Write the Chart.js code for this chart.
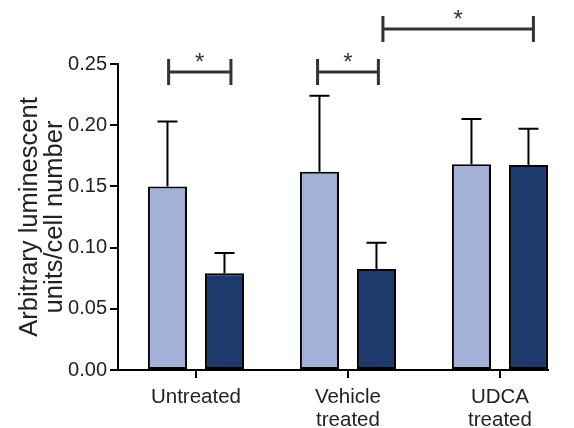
<!DOCTYPE html>
<html>
<head>
<meta charset="utf-8">
<script src="https://cdn.jsdelivr.net/npm/chart.js@4/dist/chart.umd.min.js"></script>
<style>
  html, body { margin: 0; padding: 0; background: #ffffff; }
  #wrap { width: 574px; height: 428px; }
</style>
</head>
<body>
<div id="wrap"><canvas id="c" width="574" height="428"></canvas></div>
<script>
// Groups along the x axis (multi-line labels as arrays)
const categories = [['Untreated'], ['Vehicle', 'treated'], ['UDCA', 'treated']];
// Mean luminescence per cell number, two series per group
const lightValues = [0.150, 0.162, 0.168];
const darkValues  = [0.079, 0.0825, 0.1675];
// Upper SEM for each bar
const lightErrors = [0.053, 0.062, 0.037];
const darkErrors  = [0.0166, 0.0215, 0.0295];
// Y axis ticks
const yTicks = [0.00, 0.05, 0.10, 0.15, 0.20, 0.25];
// Significance brackets: x span in group units, height in data units
const brackets = [
  { from: -0.18, to: 0.23, level: 0.2435, label: '*' },
  { from: 0.80,  to: 1.20, level: 0.2435, label: '*' },
  { from: 1.23,  to: 2.22, level: 0.2786, label: '*' }
];

const LIGHT = '#a3b0d8';
const DARK  = '#1e3a6c';
const INK   = '#222222';
const FAMILY = '"Liberation Sans", Arial, Helvetica, sans-serif';

const errorBars = {
  id: 'errorBars',
  afterDatasetsDraw(chart) {
    const ctx = chart.ctx;
    const y = chart.scales.y;
    const errs = [lightErrors, darkErrors];
    ctx.save();
    ctx.strokeStyle = '#000';
    ctx.lineWidth = 2;
    chart.data.datasets.forEach((ds, di) => {
      const meta = chart.getDatasetMeta(di);
      meta.data.forEach((bar, i) => {
        const v = ds.data[i].y;
        const top = y.getPixelForValue(v);
        const cap = y.getPixelForValue(v + errs[di][i]);
        ctx.beginPath();
        ctx.moveTo(bar.x, top);
        ctx.lineTo(bar.x, cap);
        ctx.moveTo(bar.x - 10, cap);
        ctx.lineTo(bar.x + 10, cap);
        ctx.stroke();
      });
    });
    ctx.restore();
  }
};

// Category tick marks below the x axis, significance brackets and stars
const annotations = {
  id: 'annotations',
  afterDraw(chart) {
    const ctx = chart.ctx;
    const xs = chart.scales.x, ys = chart.scales.y;
    ctx.save();
    ctx.strokeStyle = '#000';
    ctx.lineWidth = 2;
    ctx.beginPath();
    categories.forEach((_, i) => {
      const px = Math.round(xs.getPixelForValue(i));
      ctx.moveTo(px, xs.top);
      ctx.lineTo(px, xs.top + 8);
    });
    ctx.stroke();

    ctx.strokeStyle = '#333';
    ctx.lineWidth = 3;
    ctx.fillStyle = '#333';
    ctx.font = '24px ' + FAMILY;
    ctx.textAlign = 'center';
    ctx.textBaseline = 'alphabetic';
    brackets.forEach(b => {
      const x1 = xs.getPixelForValue(b.from);
      const x2 = xs.getPixelForValue(b.to);
      const yy = ys.getPixelForValue(b.level);
      ctx.beginPath();
      ctx.moveTo(x1, yy); ctx.lineTo(x2, yy);
      ctx.moveTo(x1, yy - 13); ctx.lineTo(x1, yy + 13);
      ctx.moveTo(x2, yy - 13); ctx.lineTo(x2, yy + 13);
      ctx.stroke();
      ctx.fillText(b.label, (x1 + x2) / 2, yy - 2);
    });
    ctx.restore();
  }
};

new Chart(document.getElementById('c'), {
  type: 'bar',
  data: {
    datasets: [
      {
        label: 'light',
        data: lightValues.map((v, i) => ({ x: i, y: v })),
        backgroundColor: LIGHT,
        borderColor: '#000',
        borderWidth: 2,
        borderSkipped: false,
        categoryPercentage: 0.75,
        barPercentage: 0.685
      },
      {
        label: 'dark',
        data: darkValues.map((v, i) => ({ x: i, y: v })),
        backgroundColor: DARK,
        borderColor: '#000',
        borderWidth: 2,
        borderSkipped: false,
        categoryPercentage: 0.75,
        barPercentage: 0.685
      }
    ]
  },
  options: {
    responsive: false,
    animation: false,
    devicePixelRatio: 1,
    layout: { padding: { top: 64, right: 26, left: 0, bottom: 0 } },
    plugins: { legend: { display: false }, tooltip: { enabled: false } },
    scales: {
      x: {
        type: 'linear',
        min: -0.513,
        max: 2.316,
        offset: false,
        afterBuildTicks(scale) { scale.ticks = categories.map((_, i) => ({ value: i })); },
        afterFit(scale) { scale.height = 58; },
        ticks: {
          autoSkip: false,
          maxRotation: 0,
          color: INK,
          font: { family: FAMILY, size: 20.5, lineHeight: 1.12 },
          padding: 8,
          callback: (v) => categories[v]
        },
        grid: { offset: false, drawOnChartArea: false, drawTicks: true, tickLength: 8, color: 'rgba(0,0,0,0)' },
        border: { display: true, color: '#000', width: 2 }
      },
      y: {
        min: 0,
        max: 0.25,
        afterBuildTicks(scale) { scale.ticks = yTicks.map(v => ({ value: v })); },
        afterFit(scale) { scale.width = 118; },
        ticks: {
          color: INK,
          font: { family: FAMILY, size: 20 },
          padding: 3,
          callback: (v) => v.toFixed(2)
        },
        grid: { drawOnChartArea: false, drawTicks: true, tickLength: 8, color: '#000', lineWidth: 2 },
        border: { display: true, color: '#000', width: 2 },
        title: {
          display: true,
          text: ['Arbitrary luminescent', 'units/cell number'],
          color: INK,
          font: { family: FAMILY, size: 25.5, lineHeight: 0.98 },
          padding: { top: 17, bottom: 0 }
        }
      }
    }
  },
  plugins: [errorBars, annotations]
});
</script>
</body>
</html>
